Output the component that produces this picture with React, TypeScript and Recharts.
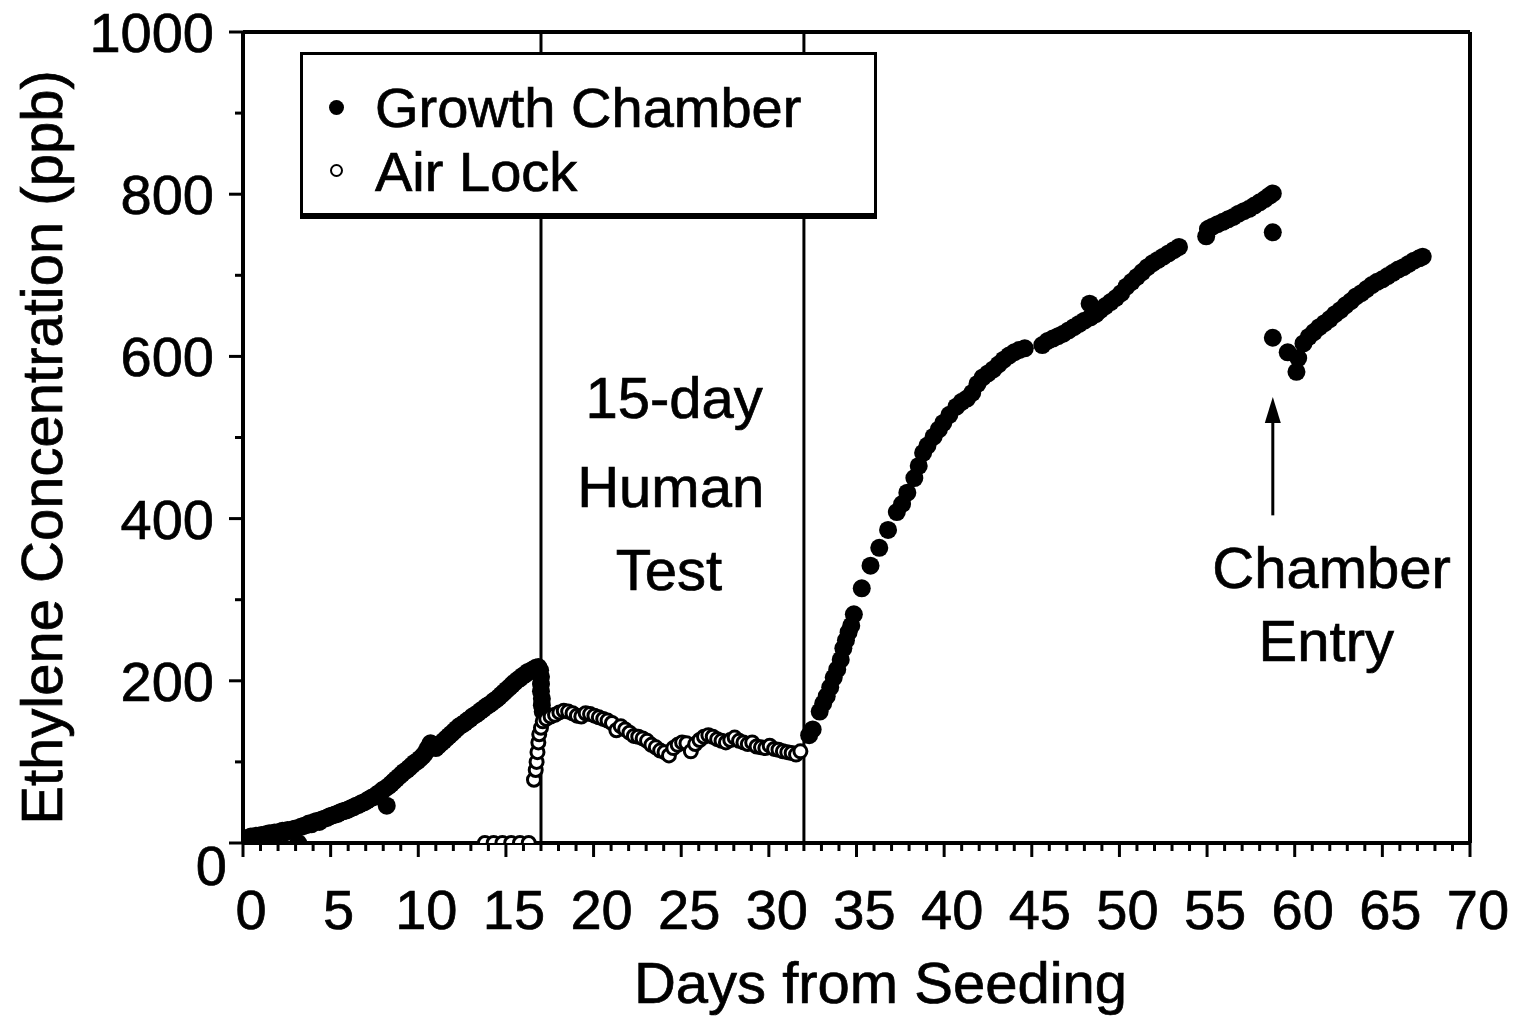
import React from 'react';
import { ScatterChart, Scatter, XAxis, YAxis, ReferenceLine, ReferenceDot, Legend, Label } from 'recharts';

const FONT = '"Liberation Sans", Arial, Helvetica, sans-serif';
const TEXT_STROKE = 0.7;

// Axis ticks
const xTicks = [0,1,2,3,4,5,6,7,8,9,10,11,12,13,14,15,16,17,18,19,20,21,22,23,24,25,26,27,28,29,30,31,32,33,34,35,36,37,38,39,40,41,42,43,44,45,46,47,48,49,50,51,52,53,54,55,56,57,58,59,60,61,62,63,64,65,66,67,68,69,70];
const xLabelTicks = [0,5,10,15,20,25,30,35,40,45,50,55,60,65,70];
const yTicks = [0,100,200,300,400,500,600,700,800,900,1000];
const yLabelTicks = [0,200,400,600,800,1000];

// Events (days from seeding)
const humanTestStart = 17;
const humanTestEnd = 32;
const chamberEntryDay = 58.75;

// Growth chamber: [day, ppb] before the human test
const growthChamberBeforeTest: [number, number][] = [
  [0,2],[0.15,6],[0.3,3],[0.45,8],[0.5,0],[0.6,5],[0.75,9],[0.9,7],[1.05,10],[1.2,8],[1.35,11],[1.5,1],[1.5,12],[1.65,10],[1.8,13],[1.95,12],
  [2.1,14],[2.25,15],[2.4,13],[2.55,16],[2.7,15],[2.85,17],[3.0,18],[3.15,0],[3.3,20],[3.45,21],[3.6,22],[3.75,24],[3.9,23],
  [4.05,26],[4.2,27],[4.35,26],[4.5,29],[4.65,30],[4.8,31],[4.95,33],[5.1,34],[5.25,35],[5.4,36],[5.55,38],[5.7,39],[5.85,40],
  [6.0,41],[6.15,43],[6.3,44],[6.45,46],[6.6,47],[6.75,49],[6.9,50],[7.05,52],[7.2,54],[7.35,56],[7.5,57],[7.65,60],[7.8,62],
  [7.95,65],[8.1,67],[8.2,46],[8.3,70],[8.45,73],[8.6,76],[8.75,79],[8.9,82],[9.05,85],[9.2,88],[9.35,90],[9.5,93],[9.65,96],
  [9.8,99],[9.95,101],[10.1,104],[10.25,107],[10.4,111],[10.55,117],[10.7,123],[10.85,121],[11.0,117],[11.15,120],[11.3,123],
  [11.45,126],[11.6,129],[11.75,132],[11.9,135],[12.05,138],[12.2,141],[12.35,144],[12.5,146],[12.65,148],[12.8,151],[12.95,153],
  [13.1,156],[13.25,158],[13.4,160],[13.55,163],[13.7,165],[13.85,168],[14.0,170],[14.15,172],[14.3,175],[14.45,177],[14.6,180],
  [14.75,183],[14.9,186],[15.05,189],[15.2,192],[15.35,195],[15.5,198],[15.65,201],[15.8,203],[15.95,206],[16.1,208],[16.25,211],
  [16.4,212],[16.55,214],[16.7,216],[16.85,217],[16.95,213],[17.0,205],[17.0,196],[17.0,187],[17.05,178],[17.05,170],[17.1,162],
];

// Growth chamber: [day, ppb] after the human test
const growthChamberAfterTest: [number, number][] = [
  [32.3,133],[32.5,140],[32.9,162],[33.1,172],[33.3,181],[33.5,192],[33.7,204],[33.9,214],[34.1,226],[34.25,240],[34.4,250],
  [34.55,260],[34.7,268],[34.85,282],[35.3,314],[35.8,342],[36.3,364],[36.8,386],[37.3,408],[37.6,418],[37.9,432],[38.3,450],
  [38.55,465],[38.8,481],[39.05,490],[39.4,501],[39.7,510],[39.95,518],[40.3,528],[40.7,538],[41.0,544],[41.3,548],[41.6,555],
  [41.9,566],[42.2,574],[42.5,579],[42.8,584],[43.1,590],[43.4,596],[43.7,601],[44.0,605],[44.3,608],[44.6,610],[45.6,614],
  [45.9,619],[46.2,622],[46.5,625],[46.8,628],[47.1,632],[47.4,636],[47.7,640],[48.0,644],[48.3,665],[48.35,648],[48.65,652],
  [48.9,657],[49.2,662],[49.5,667],[49.8,672],[50.1,678],[50.4,686],[50.7,692],[51.0,698],[51.3,704],[51.6,710],[51.9,715],
  [52.2,719],[52.5,723],[52.8,727],[53.1,731],[53.4,735],
  [54.95,748],[55.05,757],[55.3,760],[55.6,763],[55.9,766],[56.2,769],[56.5,772],[56.8,776],[57.1,779],[57.4,782],[57.7,786],
  [58.0,790],[58.3,794],[58.55,798],[58.75,801],[58.75,753],[58.75,623],[59.6,605],[60.1,581],[60.2,598],[60.5,616],[60.8,624],
  [61.1,630],[61.4,636],[61.7,641],[62.0,646],[62.3,652],[62.6,657],[62.9,663],[63.2,668],[63.5,674],[63.8,678],[64.1,683],
  [64.4,688],[64.7,692],[65.0,695],[65.3,699],[65.6,703],[65.9,707],[66.2,710],[66.5,714],[66.8,718],[67.1,721],[67.3,723],
];

// Air lock: [day, ppb]
const airLock: [number, number][] = [
  [13.8,0],[14.3,0],[14.8,0],[15.3,0],[15.8,0],[16.3,0],
  [16.6,78],[16.7,90],[16.75,100],[16.8,112],[16.85,124],[16.9,134],[17.0,142],[17.1,150],[17.3,153],[17.55,156],[17.8,158],
  [18.05,161],[18.3,163],[18.55,162],[18.8,160],[19.05,157],[19.3,156],[19.55,160],[19.8,159],[20.05,157],[20.3,155],[20.55,153],
  [20.8,151],[21.05,148],[21.3,139],[21.55,144],[21.8,140],[22.05,136],[22.3,132],[22.55,131],[22.8,129],[23.05,126],[23.3,121],
  [23.55,118],[23.8,114],[24.05,112],[24.3,108],[24.55,117],[24.8,121],[25.05,124],[25.3,123],[25.55,113],[25.8,122],[26.05,127],
  [26.3,131],[26.55,133],[26.8,131],[27.05,128],[27.3,126],[27.55,124],[27.8,127],[28.05,130],[28.3,126],[28.55,124],[28.8,122],
  [29.05,124],[29.3,119],[29.55,118],[29.8,117],[30.05,120],[30.3,116],[30.55,115],[30.8,113],[31.05,112],[31.3,111],[31.55,109],
  [31.8,113],
];

const toPoints = (arr: [number, number][]) => arr.map(([x, y]) => ({ x, y }));
const growthData = toPoints([...growthChamberBeforeTest, ...growthChamberAfterTest]);
const airLockData = toPoints(airLock);

const FilledDot = (p: any) => <circle cx={p.cx} cy={p.cy} r={9} fill="#000" />;
const OpenDot = (p: any) => <circle cx={p.cx} cy={p.cy} r={6.5} fill="#fff" stroke="#000" strokeWidth={3} />;

const BottomTick = (props: any) => {
  const { x, y, payload } = props;
  const v = payload.value;
  const major = xLabelTicks.includes(v);
  return (
    <g>
      <line x1={x} x2={x} y1={y} y2={y + (major ? 14 : 8)} stroke="#000" strokeWidth={3} />
      {major && (
        <text x={x + 8} y={y + 86} textAnchor="middle" fontSize={56} fontFamily={FONT} fill="#000" stroke="#000" strokeWidth={TEXT_STROKE}>{v}</text>
      )}
    </g>
  );
};

const LeftTick = (props: any) => {
  const { x, y, payload } = props;
  const v = payload.value;
  const major = yLabelTicks.includes(v);
  return (
    <g>
      <line x1={x - (major ? 14 : 8)} x2={x} y1={y} y2={y} stroke="#000" strokeWidth={3} />
      {major && (
        <text x={v === 0 ? x - 16 : x - 29} y={v === 0 ? y + 42 : y + 20} textAnchor="end" fontSize={56} fontFamily={FONT} fill="#000" stroke="#000" strokeWidth={TEXT_STROKE}>{v}</text>
      )}
    </g>
  );
};

const RightTick = (props: any) => {
  const { x, y, payload } = props;
  const major = yLabelTicks.includes(payload.value);
  return <line x1={x} x2={x + (major ? 12 : 6)} y1={y} y2={y} stroke="#000" strokeWidth={3} />;
};

const XTitle = (props: any) => {
  const vb = props.viewBox || { x: 243, y: 843, width: 1227 };
  return (
    <text x={vb.x + vb.width / 2 + 24} y={vb.y + 160} textAnchor="middle" fontSize={58} fontFamily={FONT} fill="#000" stroke="#000" strokeWidth={TEXT_STROKE}>
      Days from Seeding
    </text>
  );
};

const YTitle = (props: any) => {
  const vb = props.viewBox || { x: 183, y: 32, height: 811 };
  const ax = vb.x - 141;
  const ay = vb.y + vb.height / 2 + 10;
  return (
    <text x={ax} y={ay} dy="0.35em" transform={`rotate(-90 ${ax} ${ay})`} textAnchor="middle" fontSize={58} fontFamily={FONT} fill="#000" stroke="#000" strokeWidth={TEXT_STROKE}>
      Ethylene Concentration (ppb)
    </text>
  );
};

const textShape = (label: string) => (p: any) => (
  <text x={p.cx} y={p.cy} dy="0.35em" textAnchor="middle" fontSize={58} fontFamily={FONT} fill="#000" stroke="#000" strokeWidth={TEXT_STROKE}>{label}</text>
);

const ArrowHead = (p: any) => (
  <polygon points={`${p.cx},${p.cy} ${p.cx - 8},${p.cy + 26} ${p.cx + 8},${p.cy + 26}`} fill="#000" />
);

const LegendBox = () => (
  <div
    style={{
      position: 'relative',
      width: 577,
      height: 167,
      boxSizing: 'border-box',
      border: '3px solid #000',
      borderBottomWidth: 6,
      background: '#fff',
      fontFamily: FONT,
      fontSize: 56,
      color: '#000',
      WebkitTextStroke: '0.7px #000',
    }}
  >
    <div style={{ position: 'absolute', left: 26, top: 45, width: 15, height: 15, borderRadius: '50%', background: '#000' }} />
    <div style={{ position: 'absolute', left: 72, top: 25, lineHeight: '56px', whiteSpace: 'nowrap' }}>Growth Chamber</div>
    <div style={{ position: 'absolute', left: 27, top: 109, width: 9, height: 9, borderRadius: '50%', border: '2.5px solid #000', background: '#fff' }} />
    <div style={{ position: 'absolute', left: 72, top: 89, lineHeight: '56px', whiteSpace: 'nowrap' }}>Air Lock</div>
  </div>
);

export default function App() {
  return (
    <div style={{ position: 'absolute', left: 0, top: 0, width: 1524, height: 1016, background: '#fff' }}>
      <ScatterChart width={1524} height={1016} margin={{ top: 31, right: 34, bottom: 143, left: 183 }}>
        <XAxis
          xAxisId={0}
          type="number"
          dataKey="x"
          domain={[0, 70]}
          ticks={xTicks}
          interval={0}
          tickSize={0}
          tickMargin={0}
          tickLine={false}
          axisLine={{ stroke: '#000', strokeWidth: 4 }}
          tick={<BottomTick />}
          height={30}
          allowDataOverflow
        >
          <Label content={<XTitle />} />
        </XAxis>
        <XAxis
          xAxisId="top"
          orientation="top"
          type="number"
          domain={[0, 70]}
          height={1}
          tick={false}
          tickLine={false}
          axisLine={{ stroke: '#000', strokeWidth: 4 }}
        />
        <YAxis
          yAxisId={0}
          type="number"
          dataKey="y"
          domain={[0, 1000]}
          ticks={yTicks}
          interval={0}
          tickSize={0}
          tickMargin={0}
          tickLine={false}
          axisLine={{ stroke: '#000', strokeWidth: 4 }}
          tick={<LeftTick />}
          width={60}
          allowDataOverflow
        >
          <Label content={<YTitle />} />
        </YAxis>
        <YAxis
          yAxisId="right"
          orientation="right"
          type="number"
          domain={[0, 1000]}
          ticks={yTicks}
          interval={0}
          tickSize={0}
          tickMargin={0}
          tickLine={false}
          axisLine={{ stroke: '#000', strokeWidth: 4 }}
          tick={<RightTick />}
          width={20}
        />
        <ReferenceLine x={humanTestStart} xAxisId={0} yAxisId={0} stroke="#000" strokeWidth={3} />
        <ReferenceLine x={humanTestEnd} xAxisId={0} yAxisId={0} stroke="#000" strokeWidth={3} />
        <ReferenceLine
          xAxisId={0}
          yAxisId={0}
          segment={[{ x: chamberEntryDay, y: 404 }, { x: chamberEntryDay, y: 535 }]}
          stroke="#000"
          strokeWidth={3}
        />
        <ReferenceDot xAxisId={0} yAxisId={0} x={chamberEntryDay} y={550} shape={ArrowHead} />
        <ReferenceDot xAxisId={0} yAxisId={0} x={24.6} y={549} shape={textShape('15-day')} />
        <ReferenceDot xAxisId={0} yAxisId={0} x={24.4} y={439} shape={textShape('Human')} />
        <ReferenceDot xAxisId={0} yAxisId={0} x={24.3} y={337} shape={textShape('Test')} />
        <ReferenceDot xAxisId={0} yAxisId={0} x={62.1} y={339} shape={textShape('Chamber')} />
        <ReferenceDot xAxisId={0} yAxisId={0} x={61.8} y={250} shape={textShape('Entry')} />
        <Scatter name="Growth Chamber" data={growthData} xAxisId={0} yAxisId={0} fill="#000" shape={FilledDot} isAnimationActive={false} />
        <Scatter name="Air Lock" data={airLockData} xAxisId={0} yAxisId={0} fill="#fff" stroke="#000" shape={OpenDot} isAnimationActive={false} />
        <Legend
          layout="horizontal"
          verticalAlign="middle"
          align="center"
          wrapperStyle={{ left: 300, top: 52, width: 577, height: 167 }}
          content={<LegendBox />}
        />
      </ScatterChart>
    </div>
  );
}
